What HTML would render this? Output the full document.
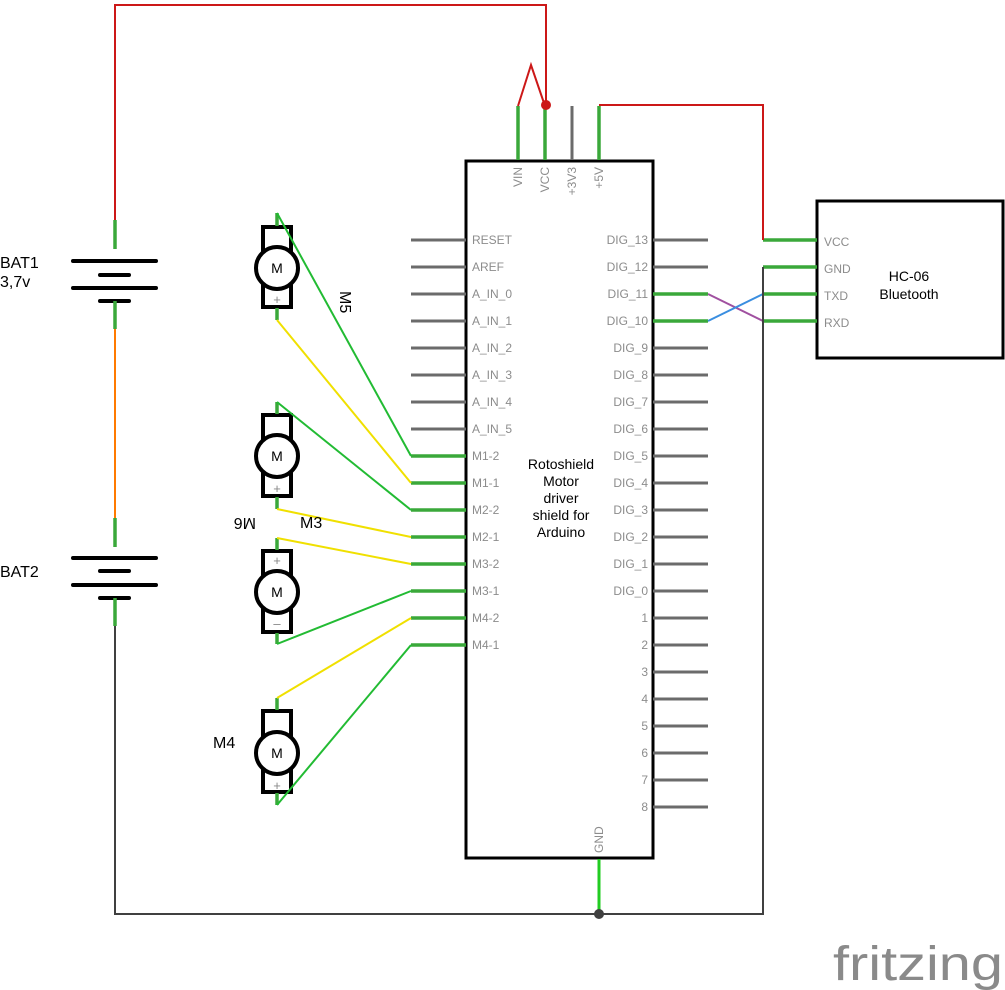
<!DOCTYPE html>
<html><head><meta charset="utf-8"><style>
html,body{margin:0;padding:0;background:#fff;}
svg{display:block;}
text{font-family:"Liberation Sans","DejaVu Sans",sans-serif;}
.pl{fill:#8c8c8c;font-size:12px;}
.gp{stroke:#3aa83a;stroke-width:3.5;}
.gy{stroke:#6b6b6b;stroke-width:3;}
.pn{fill:#999;font-size:8px;}
</style></head><body>
<svg width="1005" height="990" viewBox="0 0 1005 990" xmlns="http://www.w3.org/2000/svg">
<rect x="466" y="161" width="187" height="697" fill="#fff" stroke="#000" stroke-width="3"/>
<line x1="518" y1="106" x2="518" y2="160" class="gp"/>
<line x1="545" y1="106" x2="545" y2="160" class="gp"/>
<line x1="572" y1="106" x2="572" y2="160" class="gy"/>
<line x1="599" y1="106" x2="599" y2="160" class="gp"/>
<g class="pl" font-size="11">
<text transform="translate(522,167) rotate(-90)" text-anchor="end">VIN</text>
<text transform="translate(549,167) rotate(-90)" text-anchor="end">VCC</text>
<text transform="translate(576,167) rotate(-90)" text-anchor="end">+3V3</text>
<text transform="translate(603,167) rotate(-90)" text-anchor="end">+5V</text>
<text transform="translate(603,853) rotate(-90)" text-anchor="start">GND</text>
</g>
<line x1="599" y1="859" x2="599" y2="914" stroke="#22cc22" stroke-width="3"/>
<g class="gy">
<line x1="411" y1="240" x2="466" y2="240"/><line x1="411" y1="267" x2="466" y2="267"/>
<line x1="411" y1="294" x2="466" y2="294"/><line x1="411" y1="321" x2="466" y2="321"/>
<line x1="411" y1="348" x2="466" y2="348"/><line x1="411" y1="375" x2="466" y2="375"/>
<line x1="411" y1="402" x2="466" y2="402"/><line x1="411" y1="429" x2="466" y2="429"/>
</g>
<g class="gp">
<line x1="411" y1="456" x2="466" y2="456"/><line x1="411" y1="483" x2="466" y2="483"/>
<line x1="411" y1="510" x2="466" y2="510"/><line x1="411" y1="537" x2="466" y2="537"/>
<line x1="411" y1="564" x2="466" y2="564"/><line x1="411" y1="591" x2="466" y2="591"/>
<line x1="411" y1="618" x2="466" y2="618"/><line x1="411" y1="645" x2="466" y2="645"/>
</g>
<g class="pl">
<text x="472" y="244">RESET</text><text x="472" y="271">AREF</text>
<text x="472" y="298">A_IN_0</text><text x="472" y="325">A_IN_1</text>
<text x="472" y="352">A_IN_2</text><text x="472" y="379">A_IN_3</text>
<text x="472" y="406">A_IN_4</text><text x="472" y="433">A_IN_5</text>
<text x="472" y="460">M1-2</text><text x="472" y="487">M1-1</text>
<text x="472" y="514">M2-2</text><text x="472" y="541">M2-1</text>
<text x="472" y="568">M3-2</text><text x="472" y="595">M3-1</text>
<text x="472" y="622">M4-2</text><text x="472" y="649">M4-1</text>
</g>
<g class="gy">
<line x1="653" y1="240" x2="708" y2="240"/><line x1="653" y1="267" x2="708" y2="267"/>
<line x1="653" y1="348" x2="708" y2="348"/><line x1="653" y1="375" x2="708" y2="375"/>
<line x1="653" y1="402" x2="708" y2="402"/><line x1="653" y1="429" x2="708" y2="429"/>
<line x1="653" y1="456" x2="708" y2="456"/><line x1="653" y1="483" x2="708" y2="483"/>
<line x1="653" y1="510" x2="708" y2="510"/><line x1="653" y1="537" x2="708" y2="537"/>
<line x1="653" y1="564" x2="708" y2="564"/><line x1="653" y1="591" x2="708" y2="591"/>
<line x1="653" y1="618" x2="708" y2="618"/><line x1="653" y1="645" x2="708" y2="645"/>
<line x1="653" y1="672" x2="708" y2="672"/><line x1="653" y1="699" x2="708" y2="699"/>
<line x1="653" y1="726" x2="708" y2="726"/><line x1="653" y1="753" x2="708" y2="753"/>
<line x1="653" y1="780" x2="708" y2="780"/><line x1="653" y1="807" x2="708" y2="807"/>
</g>
<g class="gp"><line x1="653" y1="294" x2="708" y2="294"/><line x1="653" y1="321" x2="708" y2="321"/></g>
<g class="pl" text-anchor="end">
<text x="648" y="244">DIG_13</text><text x="648" y="271">DIG_12</text>
<text x="648" y="298">DIG_11</text><text x="648" y="325">DIG_10</text>
<text x="648" y="352">DIG_9</text><text x="648" y="379">DIG_8</text>
<text x="648" y="406">DIG_7</text><text x="648" y="433">DIG_6</text>
<text x="648" y="460">DIG_5</text><text x="648" y="487">DIG_4</text>
<text x="648" y="514">DIG_3</text><text x="648" y="541">DIG_2</text>
<text x="648" y="568">DIG_1</text><text x="648" y="595">DIG_0</text>
<text x="648" y="622">1</text><text x="648" y="649">2</text>
<text x="648" y="676">3</text><text x="648" y="703">4</text>
<text x="648" y="730">5</text><text x="648" y="757">6</text>
<text x="648" y="784">7</text><text x="648" y="811">8</text>
</g>
<g font-size="14" text-anchor="middle" fill="#000">
<text x="561" y="469">Rotoshield</text><text x="561" y="486">Motor</text>
<text x="561" y="503">driver</text><text x="561" y="520">shield for</text>
<text x="561" y="537">Arduino</text>
</g>
<rect x="817" y="201" width="186" height="157" fill="#fff" stroke="#000" stroke-width="3"/>
<g class="gp">
<line x1="763" y1="240" x2="817" y2="240"/><line x1="763" y1="267" x2="817" y2="267"/>
<line x1="763" y1="294" x2="817" y2="294"/><line x1="763" y1="321" x2="817" y2="321"/>
</g>
<g class="pl" font-size="11">
<text x="824" y="246">VCC</text><text x="824" y="273">GND</text>
<text x="824" y="300">TXD</text><text x="824" y="327">RXD</text>
</g>
<g font-size="14" text-anchor="middle" fill="#000">
<text x="909" y="281">HC-06</text><text x="909" y="299">Bluetooth</text>
</g>
<g stroke="#cc1818" stroke-width="2" fill="none">
<polyline points="115,220 115,5 546,5 546,106"/>
<polyline points="518,106 531,65 545,106"/>
<polyline points="599,105 763,105 763,240"/>
</g>
<circle cx="546" cy="105" r="5" fill="#cc1818"/>
<line x1="708" y1="294" x2="763" y2="321" stroke="#a050a0" stroke-width="2"/>
<line x1="708" y1="321" x2="763" y2="294" stroke="#3a8ee0" stroke-width="2"/>
<g stroke="#404040" stroke-width="2" fill="none">
<polyline points="763,267 763,914 115,914 115,626"/>
</g>
<circle cx="599" cy="914" r="5" fill="#404040"/>
<line x1="115" y1="329" x2="115" y2="518" stroke="#ff7a00" stroke-width="2"/>
<g stroke="#000" stroke-width="4" stroke-linecap="round">
<line x1="73" y1="261" x2="156" y2="261"/><line x1="100" y1="275" x2="129" y2="275"/>
<line x1="73" y1="288" x2="156" y2="288"/><line x1="100" y1="301" x2="129" y2="301"/>
<line x1="73" y1="558" x2="156" y2="558"/><line x1="100" y1="571" x2="129" y2="571"/>
<line x1="73" y1="585" x2="156" y2="585"/><line x1="100" y1="598" x2="129" y2="598"/>
</g>
<g class="gp">
<line x1="115" y1="220" x2="115" y2="249"/><line x1="115" y1="301" x2="115" y2="329"/>
<line x1="115" y1="518" x2="115" y2="547"/><line x1="115" y1="598" x2="115" y2="626"/>
</g>
<g font-size="16" fill="#000">
<text x="0" y="268">BAT1</text><text x="0" y="287">3,7v</text>
<text x="0" y="577">BAT2</text>
</g>
<g fill="#fff" stroke="#000" stroke-width="4">
<rect x="263" y="227" width="28" height="80"/><circle cx="277" cy="268" r="21"/>
<rect x="263" y="415" width="28" height="81"/><circle cx="277" cy="456" r="21"/>
<rect x="263" y="551" width="28" height="81"/><circle cx="277" cy="592" r="21"/>
<rect x="263" y="711" width="28" height="81"/><circle cx="277" cy="753" r="21"/>
</g>
<g font-size="14" text-anchor="middle" fill="#000">
<text x="277" y="273">M</text><text x="277" y="461">M</text>
<text x="277" y="597">M</text><text x="277" y="758">M</text>
</g>
<g fill="#888" font-size="13" text-anchor="middle">
<text x="277" y="304">+</text><text x="277" y="493">+</text>
<text x="277" y="565">+</text><text x="277" y="628">–</text><text x="277" y="790">+</text>
</g>
<g class="gp">
<line x1="277" y1="213" x2="277" y2="226"/><line x1="277" y1="308" x2="277" y2="320"/>
<line x1="277" y1="402" x2="277" y2="414"/><line x1="277" y1="497" x2="277" y2="509"/>
<line x1="277" y1="538" x2="277" y2="550"/><line x1="277" y1="633" x2="277" y2="644"/>
<line x1="277" y1="698" x2="277" y2="710"/><line x1="277" y1="793" x2="277" y2="805"/>
</g>
<g stroke-width="2">
<line x1="277" y1="213" x2="411" y2="456" stroke="#22bb33"/>
<line x1="277" y1="320" x2="411" y2="483" stroke="#f0e000"/>
<line x1="277" y1="402" x2="411" y2="510" stroke="#22bb33"/>
<line x1="277" y1="509" x2="411" y2="537" stroke="#f0e000"/>
<line x1="277" y1="538" x2="411" y2="564" stroke="#f0e000"/>
<line x1="277" y1="644" x2="411" y2="591" stroke="#22bb33"/>
<line x1="277" y1="698" x2="411" y2="618" stroke="#f0e000"/>
<line x1="277" y1="805" x2="411" y2="645" stroke="#22bb33"/>
</g>
<g font-size="16" fill="#000">
<text transform="translate(340,291) rotate(90)">M5</text>
<text x="300" y="528">M3</text>
<text transform="translate(256,518) rotate(180)" text-anchor="start">M6</text>
<text x="213" y="748">M4</text>
</g>
<text x="833" y="980" font-size="48" fill="#8a8a8a" textLength="170" lengthAdjust="spacingAndGlyphs" font-family="'DejaVu Sans',sans-serif">fritzing</text>
</svg>
</body></html>
